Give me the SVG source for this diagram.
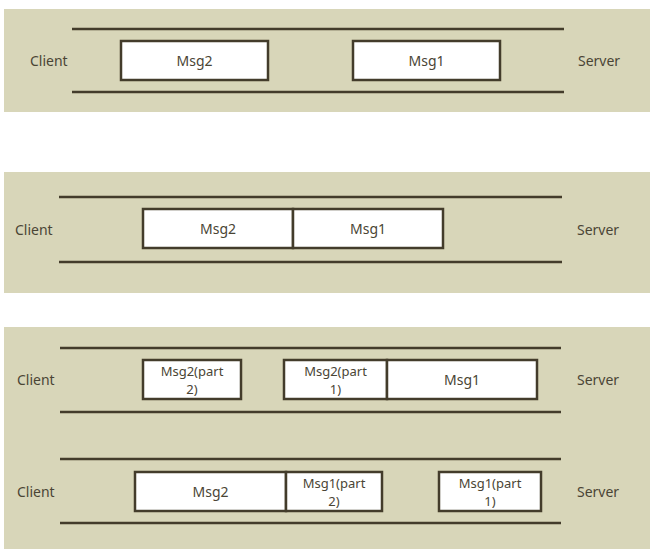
<svg xmlns="http://www.w3.org/2000/svg" width="672" height="559" viewBox="0 0 672 559">
<style>
.bg{fill:#d8d6b9}
.ln{stroke:#433c2b;stroke-width:2.5;fill:none}
.box{fill:#ffffff;stroke:#433c2b;stroke-width:2.5}
text{font-family:"Noto Sans","Open Sans","DejaVu Sans",sans-serif;font-size:14px;fill:#4a4535}
.c{text-anchor:middle}
.s{font-size:13px}
</style>
<rect width="672" height="559" fill="#ffffff"/>
<g id="panel1">
<rect class="bg" x="4" y="9" width="646" height="103"/>
<g id="p1-lines"><line class="ln" x1="72" y1="29" x2="564" y2="29"/><line class="ln" x1="72" y1="92" x2="564" y2="92"/></g>
<text x="30" y="66">Client</text>
<text x="578" y="66">Server</text>
<g id="p1-msg2"><rect class="box" x="121" y="41" width="147" height="39"/><text class="c" x="194.5" y="66">Msg2</text></g>
<g id="p1-msg1"><rect class="box" x="353" y="41" width="147" height="39"/><text class="c" x="426.5" y="66">Msg1</text></g>
</g>
<g id="panel2">
<rect class="bg" x="4" y="172" width="646" height="121"/>
<g id="p2-lines"><line class="ln" x1="59" y1="197" x2="562" y2="197"/><line class="ln" x1="59" y1="262" x2="562" y2="262"/></g>
<text x="15" y="235">Client</text>
<text x="577" y="235">Server</text>
<g id="p2-msg2"><rect class="box" x="143" y="209" width="150" height="39"/><text class="c" x="218" y="234">Msg2</text></g>
<g id="p2-msg1"><rect class="box" x="293" y="209" width="150" height="39"/><text class="c" x="368" y="234">Msg1</text></g>
</g>
<g id="panel3">
<rect class="bg" x="4" y="327" width="646" height="222"/>
<g id="p3-lines">
<line class="ln" x1="60" y1="348" x2="561" y2="348"/><line class="ln" x1="60" y1="412" x2="561" y2="412"/>
<line class="ln" x1="60" y1="459" x2="561" y2="459"/><line class="ln" x1="60" y1="523" x2="561" y2="523"/>
</g>
<text x="17" y="385">Client</text>
<text x="577" y="385">Server</text>
<text x="17" y="497">Client</text>
<text x="577" y="497">Server</text>
<g id="p3a-msg2p2"><rect class="box" x="143" y="360" width="98" height="39"/><text class="c s" x="192" y="376">Msg2(part</text><text class="c s" x="192" y="394">2)</text></g>
<g id="p3a-msg2p1"><rect class="box" x="284" y="360" width="103" height="39"/><text class="c s" x="335.5" y="376">Msg2(part</text><text class="c s" x="335.5" y="394">1)</text></g>
<g id="p3a-msg1"><rect class="box" x="387" y="360" width="150" height="39"/><text class="c" x="462" y="385">Msg1</text></g>
<g id="p3b-msg2"><rect class="box" x="135" y="472" width="151" height="39"/><text class="c" x="210.5" y="497">Msg2</text></g>
<g id="p3b-msg1p2"><rect class="box" x="286" y="472" width="96" height="39"/><text class="c s" x="334" y="488">Msg1(part</text><text class="c s" x="334" y="506">2)</text></g>
<g id="p3b-msg1p1"><rect class="box" x="439" y="472" width="102" height="39"/><text class="c s" x="490" y="488">Msg1(part</text><text class="c s" x="490" y="506">1)</text></g>
</g>
</svg>
